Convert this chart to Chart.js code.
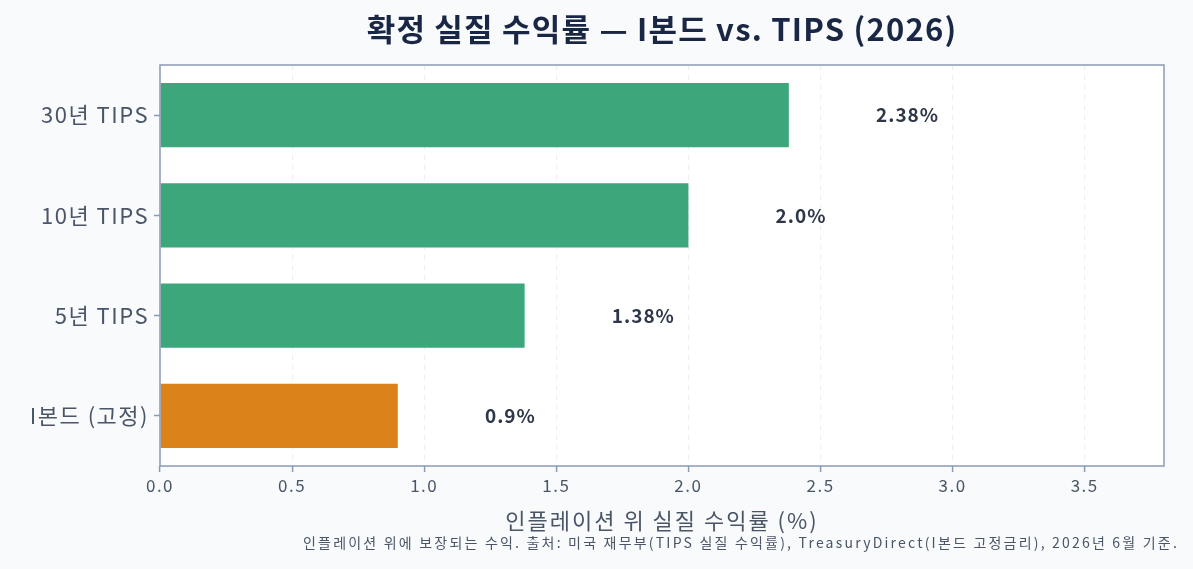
<!DOCTYPE html>
<html>
<head>
<meta charset="utf-8">
<script src="https://cdn.jsdelivr.net/npm/chart.js@4"></script>
<style>
  html, body { margin: 0; padding: 0; background: #f8fafc; }
  #wrap { width: 1193px; height: 569px; position: relative; }
</style>
</head>
<body>
<div id="wrap"><canvas id="c"></canvas></div>
<script>
const categories = ['30년 TIPS', '10년 TIPS', '5년 TIPS', 'I본드 (고정)'];
const realYields = [2.38, 2.0, 1.38, 0.9];
const valueLabels = ['2.38%', '2.0%', '1.38%', '0.9%'];
const barColors = ['#3ca77b', '#3ca77b', '#3ca77b', '#db821b'];
const xTickValues = [0, 0.5, 1, 1.5, 2, 2.5, 3, 3.5];
const titleText = '확정 실질 수익률 — I본드 vs. TIPS (2026)';
const xTitleText = '인플레이션 위 실질 수익률 (%)';
const footerText = '인플레이션 위에 보장되는 수익. 출처: 미국 재무부(TIPS 실질 수익률), TreasuryDirect(I본드 고정금리), 2026년 6월 기준.';

const FONT = "'Noto Sans CJK KR', 'Noto Sans', sans-serif";

const decor = {
  id: 'decor',
  beforeDraw(chart) {
    const { ctx, chartArea: a } = chart;
    ctx.letterSpacing = '1.5px';
    ctx.save();
    ctx.fillStyle = '#f8fafc';
    ctx.fillRect(0, 0, chart.width, chart.height);
    ctx.fillStyle = '#ffffff';
    ctx.fillRect(a.left, a.top, a.right - a.left, a.bottom - a.top);
    ctx.restore();
  },
  afterDatasetsDraw(chart) {
    const { ctx } = chart;
    const xs = chart.scales.x;
    const meta = chart.getDatasetMeta(0);
    ctx.save();
    ctx.letterSpacing = '1px';
    ctx.font = "bold 19px " + FONT;
    ctx.fillStyle = '#2d3748';
    ctx.textAlign = 'left';
    ctx.textBaseline = 'middle';
    meta.data.forEach((bar, i) => {
      const x = xs.getPixelForValue(realYields[i] + 0.33);
      ctx.fillText(valueLabels[i], x, bar.y);
    });
    ctx.restore();
  },
  afterDraw(chart) {
    const { ctx, chartArea: a } = chart;
    ctx.save();
    ctx.strokeStyle = '#8a9ab3';
    ctx.lineWidth = 1.5;
    ctx.strokeRect(a.left, a.top, a.right - a.left, a.bottom - a.top);

    ctx.fillStyle = '#1a2744';
    ctx.letterSpacing = '1.2px';
    ctx.font = "bold 31px " + FONT;
    ctx.textAlign = 'center';
    ctx.textBaseline = 'middle';
    ctx.fillText(titleText, (a.left + a.right) / 2, 29);

    ctx.fillStyle = '#4a5568';
    ctx.letterSpacing = '2px';
    ctx.font = "22px " + FONT;
    ctx.fillText(xTitleText, (a.left + a.right) / 2, 521);

    ctx.letterSpacing = '2.2px';
    ctx.font = "14px " + FONT;
    ctx.textAlign = 'right';
    ctx.fillText(footerText, 1179, 543);
    ctx.restore();
  }
};

new Chart(document.getElementById('c'), {
  type: 'bar',
  data: {
    labels: categories,
    datasets: [{
      data: realYields,
      backgroundColor: barColors,
      borderWidth: 0,
      barPercentage: 0.64,
      categoryPercentage: 1.0
    }]
  },
  options: {
    indexAxis: 'y',
    responsive: true,
    maintainAspectRatio: false,
    animation: false,
    layout: { padding: { top: 65, bottom: 33, right: 29, left: 0 } },
    plugins: {
      legend: { display: false },
      tooltip: { enabled: false },
      title: { display: false }
    },
    scales: {
      x: {
        min: 0,
        max: 3.8,
        afterFit(s) { s.height = 70; },
        afterBuildTicks(s) { s.ticks = xTickValues.map(v => ({ value: v })); },
        ticks: {
          callback: v => Number(v).toFixed(1),
          font: { family: FONT, size: 17 },
          color: '#4a5568',
          padding: 3
        },
        grid: {
          color: '#edf1f5',
          lineWidth: 1.2,
          tickColor: '#8a9ab3',
          tickLength: 6,
          tickWidth: 1.5
        },
        border: { display: false, dash: [5, 5] }
      },
      y: {
        afterFit(s) { s.width = 160; },
        ticks: {
          font: { family: FONT, size: 22 },
          color: '#4a5568',
          padding: 5
        },
        grid: {
          offset: false,
          drawOnChartArea: false,
          tickColor: '#8a9ab3',
          tickLength: 6,
          tickWidth: 1.5
        },
        border: { display: false }
      }
    }
  },
  plugins: [decor]
});
</script>
</body>
</html>
